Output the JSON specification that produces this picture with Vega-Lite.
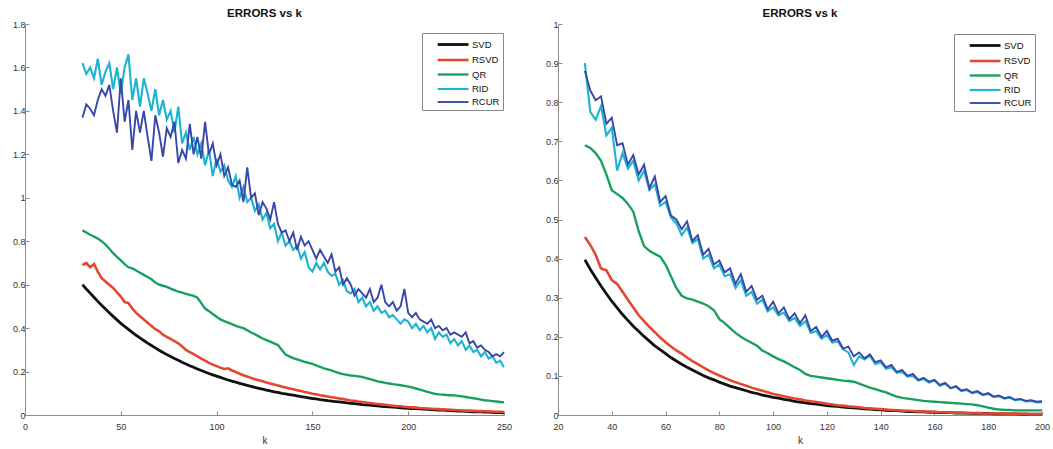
{
"$schema": "https://vega.github.io/schema/vega-lite/v6.json",
"padding": {"left": 12, "top": 7, "right": 4, "bottom": 2},
"background": "white",
"config": {
  "font": "Liberation Sans",
  "view": {"stroke": null},
  "axis": {"grid": false, "domainColor": "#8c8c8c", "tickColor": "#8c8c8c", "tickSize": -4, "labelColor": "#333333", "labelFontSize": 9, "titleFontSize": 10, "titleFontWeight": "normal", "titleColor": "#333333", "labelFlush": false, "labelOverlap": false},
  "axisX": {"labelPadding": 11, "titlePadding": 4},
  "axisY": {"labelPadding": 4},
  "title": {"fontSize": 11.5, "fontWeight": "bold", "color": "#111111", "offset": 1},
  "legend": {"symbolType": "M0.6,0L5,0", "symbolSize": 196, "symbolStrokeWidth": 2, "labelFontSize": 9.5, "labelColor": "#111111", "labelOffset": 30, "rowPadding": 0.5, "padding": 3, "strokeColor": "#888888", "fillColor": "white"},
  "concat": {"spacing": 33}
},
"datasets": {
"L": [
{"k":30,"SVD":0.600,"RSVD":0.690,"QR":0.850,"RID":1.62,"RCUR":1.37},
{"k":32,"SVD":0.580,"RSVD":0.700,"QR":0.840,"RID":1.57,"RCUR":1.43},
{"k":34,"SVD":0.561,"RSVD":0.680,"QR":0.830,"RID":1.60,"RCUR":1.41},
{"k":36,"SVD":0.542,"RSVD":0.695,"QR":0.822,"RID":1.55,"RCUR":1.38},
{"k":38,"SVD":0.523,"RSVD":0.660,"QR":0.812,"RID":1.64,"RCUR":1.45},
{"k":40,"SVD":0.505,"RSVD":0.630,"QR":0.800,"RID":1.52,"RCUR":1.50},
{"k":42,"SVD":0.488,"RSVD":0.615,"QR":0.785,"RID":1.58,"RCUR":1.47},
{"k":44,"SVD":0.471,"RSVD":0.600,"QR":0.765,"RID":1.62,"RCUR":1.52},
{"k":46,"SVD":0.454,"RSVD":0.585,"QR":0.745,"RID":1.50,"RCUR":1.40},
{"k":48,"SVD":0.438,"RSVD":0.565,"QR":0.728,"RID":1.60,"RCUR":1.30},
{"k":50,"SVD":0.422,"RSVD":0.545,"QR":0.712,"RID":1.48,"RCUR":1.55},
{"k":52,"SVD":0.408,"RSVD":0.520,"QR":0.695,"RID":1.60,"RCUR":1.35},
{"k":54,"SVD":0.394,"RSVD":0.515,"QR":0.680,"RID":1.66,"RCUR":1.45},
{"k":56,"SVD":0.380,"RSVD":0.490,"QR":0.675,"RID":1.45,"RCUR":1.22},
{"k":58,"SVD":0.367,"RSVD":0.470,"QR":0.665,"RID":1.55,"RCUR":1.40},
{"k":60,"SVD":0.355,"RSVD":0.455,"QR":0.655,"RID":1.42,"RCUR":1.30},
{"k":62,"SVD":0.343,"RSVD":0.440,"QR":0.645,"RID":1.55,"RCUR":1.40},
{"k":64,"SVD":0.331,"RSVD":0.425,"QR":0.635,"RID":1.48,"RCUR":1.28},
{"k":66,"SVD":0.320,"RSVD":0.410,"QR":0.625,"RID":1.40,"RCUR":1.17},
{"k":68,"SVD":0.309,"RSVD":0.395,"QR":0.610,"RID":1.50,"RCUR":1.38},
{"k":70,"SVD":0.298,"RSVD":0.385,"QR":0.600,"RID":1.38,"RCUR":1.30},
{"k":72,"SVD":0.288,"RSVD":0.370,"QR":0.595,"RID":1.45,"RCUR":1.19},
{"k":74,"SVD":0.278,"RSVD":0.360,"QR":0.590,"RID":1.36,"RCUR":1.32},
{"k":76,"SVD":0.269,"RSVD":0.350,"QR":0.582,"RID":1.40,"RCUR":1.28},
{"k":78,"SVD":0.260,"RSVD":0.340,"QR":0.575,"RID":1.30,"RCUR":1.35},
{"k":80,"SVD":0.252,"RSVD":0.330,"QR":0.568,"RID":1.42,"RCUR":1.16},
{"k":82,"SVD":0.243,"RSVD":0.315,"QR":0.563,"RID":1.25,"RCUR":1.22},
{"k":84,"SVD":0.235,"RSVD":0.300,"QR":0.558,"RID":1.30,"RCUR":1.18},
{"k":86,"SVD":0.227,"RSVD":0.290,"QR":0.553,"RID":1.22,"RCUR":1.34},
{"k":88,"SVD":0.220,"RSVD":0.280,"QR":0.548,"RID":1.28,"RCUR":1.20},
{"k":90,"SVD":0.212,"RSVD":0.270,"QR":0.540,"RID":1.20,"RCUR":1.28},
{"k":92,"SVD":0.205,"RSVD":0.260,"QR":0.515,"RID":1.25,"RCUR":1.18},
{"k":94,"SVD":0.198,"RSVD":0.250,"QR":0.490,"RID":1.15,"RCUR":1.35},
{"k":96,"SVD":0.191,"RSVD":0.240,"QR":0.478,"RID":1.22,"RCUR":1.20},
{"k":98,"SVD":0.185,"RSVD":0.232,"QR":0.465,"RID":1.10,"RCUR":1.25},
{"k":100,"SVD":0.179,"RSVD":0.225,"QR":0.452,"RID":1.18,"RCUR":1.15},
{"k":102,"SVD":0.173,"RSVD":0.218,"QR":0.440,"RID":1.12,"RCUR":1.20},
{"k":104,"SVD":0.167,"RSVD":0.212,"QR":0.432,"RID":1.15,"RCUR":1.10},
{"k":106,"SVD":0.161,"RSVD":0.215,"QR":0.425,"RID":1.08,"RCUR":1.14},
{"k":108,"SVD":0.156,"RSVD":0.205,"QR":0.418,"RID":1.05,"RCUR":1.06},
{"k":110,"SVD":0.151,"RSVD":0.198,"QR":0.410,"RID":1.10,"RCUR":1.05},
{"k":112,"SVD":0.146,"RSVD":0.190,"QR":0.405,"RID":1.00,"RCUR":1.08},
{"k":114,"SVD":0.141,"RSVD":0.183,"QR":0.400,"RID":1.05,"RCUR":0.98},
{"k":116,"SVD":0.136,"RSVD":0.177,"QR":0.390,"RID":0.98,"RCUR":1.14},
{"k":118,"SVD":0.132,"RSVD":0.171,"QR":0.380,"RID":1.00,"RCUR":1.00},
{"k":120,"SVD":0.127,"RSVD":0.165,"QR":0.372,"RID":0.94,"RCUR":1.02},
{"k":122,"SVD":0.123,"RSVD":0.160,"QR":0.362,"RID":0.97,"RCUR":0.92},
{"k":124,"SVD":0.119,"RSVD":0.155,"QR":0.352,"RID":0.90,"RCUR":0.98},
{"k":126,"SVD":0.115,"RSVD":0.150,"QR":0.345,"RID":0.93,"RCUR":0.95},
{"k":128,"SVD":0.111,"RSVD":0.145,"QR":0.338,"RID":0.86,"RCUR":0.90},
{"k":130,"SVD":0.107,"RSVD":0.140,"QR":0.330,"RID":0.88,"RCUR":0.98},
{"k":132,"SVD":0.104,"RSVD":0.136,"QR":0.322,"RID":0.80,"RCUR":0.88},
{"k":134,"SVD":0.100,"RSVD":0.131,"QR":0.300,"RID":0.84,"RCUR":0.84},
{"k":136,"SVD":0.097,"RSVD":0.127,"QR":0.278,"RID":0.78,"RCUR":0.85},
{"k":138,"SVD":0.094,"RSVD":0.122,"QR":0.270,"RID":0.80,"RCUR":0.80},
{"k":140,"SVD":0.091,"RSVD":0.118,"QR":0.262,"RID":0.76,"RCUR":0.84},
{"k":142,"SVD":0.088,"RSVD":0.114,"QR":0.256,"RID":0.78,"RCUR":0.76},
{"k":144,"SVD":0.085,"RSVD":0.110,"QR":0.250,"RID":0.72,"RCUR":0.82},
{"k":146,"SVD":0.082,"RSVD":0.106,"QR":0.245,"RID":0.75,"RCUR":0.78},
{"k":148,"SVD":0.079,"RSVD":0.102,"QR":0.240,"RID":0.68,"RCUR":0.80},
{"k":150,"SVD":0.076,"RSVD":0.098,"QR":0.235,"RID":0.66,"RCUR":0.76},
{"k":152,"SVD":0.074,"RSVD":0.095,"QR":0.228,"RID":0.70,"RCUR":0.72},
{"k":154,"SVD":0.071,"RSVD":0.091,"QR":0.222,"RID":0.67,"RCUR":0.76},
{"k":156,"SVD":0.069,"RSVD":0.088,"QR":0.215,"RID":0.70,"RCUR":0.73},
{"k":158,"SVD":0.066,"RSVD":0.085,"QR":0.210,"RID":0.66,"RCUR":0.70},
{"k":160,"SVD":0.064,"RSVD":0.082,"QR":0.205,"RID":0.64,"RCUR":0.74},
{"k":162,"SVD":0.062,"RSVD":0.079,"QR":0.198,"RID":0.65,"RCUR":0.66},
{"k":164,"SVD":0.060,"RSVD":0.076,"QR":0.193,"RID":0.60,"RCUR":0.68},
{"k":166,"SVD":0.058,"RSVD":0.073,"QR":0.188,"RID":0.62,"RCUR":0.60},
{"k":168,"SVD":0.056,"RSVD":0.070,"QR":0.185,"RID":0.57,"RCUR":0.63},
{"k":170,"SVD":0.054,"RSVD":0.067,"QR":0.182,"RID":0.56,"RCUR":0.60},
{"k":172,"SVD":0.052,"RSVD":0.065,"QR":0.180,"RID":0.58,"RCUR":0.55},
{"k":174,"SVD":0.050,"RSVD":0.062,"QR":0.178,"RID":0.52,"RCUR":0.58},
{"k":176,"SVD":0.048,"RSVD":0.060,"QR":0.175,"RID":0.54,"RCUR":0.56},
{"k":178,"SVD":0.047,"RSVD":0.057,"QR":0.170,"RID":0.50,"RCUR":0.54},
{"k":180,"SVD":0.045,"RSVD":0.055,"QR":0.165,"RID":0.52,"RCUR":0.58},
{"k":182,"SVD":0.043,"RSVD":0.053,"QR":0.160,"RID":0.48,"RCUR":0.52},
{"k":184,"SVD":0.042,"RSVD":0.051,"QR":0.155,"RID":0.50,"RCUR":0.54},
{"k":186,"SVD":0.040,"RSVD":0.049,"QR":0.152,"RID":0.47,"RCUR":0.60},
{"k":188,"SVD":0.039,"RSVD":0.047,"QR":0.148,"RID":0.48,"RCUR":0.52},
{"k":190,"SVD":0.037,"RSVD":0.045,"QR":0.145,"RID":0.45,"RCUR":0.50},
{"k":192,"SVD":0.036,"RSVD":0.043,"QR":0.142,"RID":0.46,"RCUR":0.52},
{"k":194,"SVD":0.035,"RSVD":0.041,"QR":0.140,"RID":0.44,"RCUR":0.48},
{"k":196,"SVD":0.033,"RSVD":0.040,"QR":0.137,"RID":0.42,"RCUR":0.50},
{"k":198,"SVD":0.032,"RSVD":0.038,"QR":0.134,"RID":0.44,"RCUR":0.58},
{"k":200,"SVD":0.031,"RSVD":0.036,"QR":0.131,"RID":0.43,"RCUR":0.47},
{"k":202,"SVD":0.030,"RSVD":0.035,"QR":0.127,"RID":0.40,"RCUR":0.45},
{"k":204,"SVD":0.029,"RSVD":0.034,"QR":0.122,"RID":0.42,"RCUR":0.47},
{"k":206,"SVD":0.028,"RSVD":0.032,"QR":0.117,"RID":0.39,"RCUR":0.44},
{"k":208,"SVD":0.027,"RSVD":0.031,"QR":0.112,"RID":0.41,"RCUR":0.43},
{"k":210,"SVD":0.026,"RSVD":0.030,"QR":0.107,"RID":0.38,"RCUR":0.42},
{"k":212,"SVD":0.025,"RSVD":0.029,"QR":0.102,"RID":0.40,"RCUR":0.44},
{"k":214,"SVD":0.024,"RSVD":0.028,"QR":0.097,"RID":0.35,"RCUR":0.40},
{"k":216,"SVD":0.023,"RSVD":0.027,"QR":0.095,"RID":0.38,"RCUR":0.41},
{"k":218,"SVD":0.022,"RSVD":0.026,"QR":0.094,"RID":0.36,"RCUR":0.39},
{"k":220,"SVD":0.021,"RSVD":0.025,"QR":0.092,"RID":0.37,"RCUR":0.40},
{"k":222,"SVD":0.020,"RSVD":0.024,"QR":0.091,"RID":0.33,"RCUR":0.37},
{"k":224,"SVD":0.019,"RSVD":0.023,"QR":0.090,"RID":0.35,"RCUR":0.38},
{"k":226,"SVD":0.018,"RSVD":0.022,"QR":0.088,"RID":0.32,"RCUR":0.37},
{"k":228,"SVD":0.018,"RSVD":0.021,"QR":0.086,"RID":0.34,"RCUR":0.36},
{"k":230,"SVD":0.017,"RSVD":0.020,"QR":0.083,"RID":0.30,"RCUR":0.38},
{"k":232,"SVD":0.016,"RSVD":0.020,"QR":0.080,"RID":0.32,"RCUR":0.33},
{"k":234,"SVD":0.015,"RSVD":0.019,"QR":0.077,"RID":0.29,"RCUR":0.34},
{"k":236,"SVD":0.015,"RSVD":0.018,"QR":0.074,"RID":0.30,"RCUR":0.31},
{"k":238,"SVD":0.014,"RSVD":0.018,"QR":0.071,"RID":0.27,"RCUR":0.32},
{"k":240,"SVD":0.013,"RSVD":0.017,"QR":0.068,"RID":0.29,"RCUR":0.30},
{"k":242,"SVD":0.013,"RSVD":0.016,"QR":0.066,"RID":0.26,"RCUR":0.29},
{"k":244,"SVD":0.012,"RSVD":0.016,"QR":0.064,"RID":0.27,"RCUR":0.27},
{"k":246,"SVD":0.011,"RSVD":0.015,"QR":0.062,"RID":0.24,"RCUR":0.28},
{"k":248,"SVD":0.011,"RSVD":0.015,"QR":0.060,"RID":0.25,"RCUR":0.27},
{"k":250,"SVD":0.010,"RSVD":0.014,"QR":0.058,"RID":0.22,"RCUR":0.29}
],
"R": [
{"k":30,"SVD":0.397,"RSVD":0.455,"QR":0.690,"RID":0.900,"RCUR":0.880},
{"k":32,"SVD":0.373,"RSVD":0.435,"QR":0.683,"RID":0.775,"RCUR":0.830},
{"k":34,"SVD":0.351,"RSVD":0.410,"QR":0.670,"RID":0.755,"RCUR":0.805},
{"k":36,"SVD":0.330,"RSVD":0.375,"QR":0.650,"RID":0.790,"RCUR":0.815},
{"k":38,"SVD":0.310,"RSVD":0.370,"QR":0.615,"RID":0.715,"RCUR":0.745},
{"k":40,"SVD":0.291,"RSVD":0.345,"QR":0.575,"RID":0.735,"RCUR":0.760},
{"k":42,"SVD":0.274,"RSVD":0.335,"QR":0.565,"RID":0.625,"RCUR":0.690},
{"k":44,"SVD":0.257,"RSVD":0.315,"QR":0.555,"RID":0.670,"RCUR":0.695},
{"k":46,"SVD":0.242,"RSVD":0.295,"QR":0.540,"RID":0.630,"RCUR":0.640},
{"k":48,"SVD":0.227,"RSVD":0.275,"QR":0.520,"RID":0.650,"RCUR":0.665},
{"k":50,"SVD":0.214,"RSVD":0.255,"QR":0.470,"RID":0.600,"RCUR":0.615},
{"k":52,"SVD":0.201,"RSVD":0.240,"QR":0.432,"RID":0.625,"RCUR":0.640},
{"k":54,"SVD":0.189,"RSVD":0.225,"QR":0.420,"RID":0.575,"RCUR":0.580},
{"k":56,"SVD":0.177,"RSVD":0.212,"QR":0.412,"RID":0.590,"RCUR":0.610},
{"k":58,"SVD":0.167,"RSVD":0.198,"QR":0.405,"RID":0.535,"RCUR":0.545},
{"k":60,"SVD":0.157,"RSVD":0.186,"QR":0.385,"RID":0.545,"RCUR":0.560},
{"k":62,"SVD":0.147,"RSVD":0.175,"QR":0.355,"RID":0.505,"RCUR":0.510},
{"k":64,"SVD":0.138,"RSVD":0.165,"QR":0.325,"RID":0.490,"RCUR":0.500},
{"k":66,"SVD":0.130,"RSVD":0.157,"QR":0.305,"RID":0.460,"RCUR":0.475},
{"k":68,"SVD":0.122,"RSVD":0.147,"QR":0.298,"RID":0.480,"RCUR":0.495},
{"k":70,"SVD":0.115,"RSVD":0.138,"QR":0.295,"RID":0.440,"RCUR":0.445},
{"k":72,"SVD":0.108,"RSVD":0.130,"QR":0.290,"RID":0.450,"RCUR":0.460},
{"k":74,"SVD":0.101,"RSVD":0.122,"QR":0.285,"RID":0.400,"RCUR":0.410},
{"k":76,"SVD":0.095,"RSVD":0.114,"QR":0.278,"RID":0.410,"RCUR":0.425},
{"k":78,"SVD":0.090,"RSVD":0.107,"QR":0.268,"RID":0.375,"RCUR":0.385},
{"k":80,"SVD":0.084,"RSVD":0.101,"QR":0.245,"RID":0.385,"RCUR":0.395},
{"k":82,"SVD":0.079,"RSVD":0.095,"QR":0.235,"RID":0.355,"RCUR":0.365},
{"k":84,"SVD":0.074,"RSVD":0.089,"QR":0.222,"RID":0.360,"RCUR":0.375},
{"k":86,"SVD":0.070,"RSVD":0.084,"QR":0.210,"RID":0.325,"RCUR":0.335},
{"k":88,"SVD":0.066,"RSVD":0.079,"QR":0.200,"RID":0.345,"RCUR":0.360},
{"k":90,"SVD":0.062,"RSVD":0.075,"QR":0.192,"RID":0.305,"RCUR":0.315},
{"k":92,"SVD":0.058,"RSVD":0.070,"QR":0.185,"RID":0.315,"RCUR":0.330},
{"k":94,"SVD":0.055,"RSVD":0.066,"QR":0.177,"RID":0.285,"RCUR":0.295},
{"k":96,"SVD":0.051,"RSVD":0.062,"QR":0.165,"RID":0.295,"RCUR":0.305},
{"k":98,"SVD":0.048,"RSVD":0.058,"QR":0.158,"RID":0.265,"RCUR":0.270},
{"k":100,"SVD":0.045,"RSVD":0.054,"QR":0.150,"RID":0.275,"RCUR":0.290},
{"k":102,"SVD":0.043,"RSVD":0.051,"QR":0.143,"RID":0.255,"RCUR":0.260},
{"k":104,"SVD":0.040,"RSVD":0.048,"QR":0.137,"RID":0.262,"RCUR":0.275},
{"k":106,"SVD":0.038,"RSVD":0.045,"QR":0.130,"RID":0.240,"RCUR":0.245},
{"k":108,"SVD":0.035,"RSVD":0.042,"QR":0.122,"RID":0.248,"RCUR":0.260},
{"k":110,"SVD":0.033,"RSVD":0.040,"QR":0.115,"RID":0.228,"RCUR":0.235},
{"k":112,"SVD":0.031,"RSVD":0.037,"QR":0.105,"RID":0.240,"RCUR":0.255},
{"k":114,"SVD":0.029,"RSVD":0.035,"QR":0.100,"RID":0.210,"RCUR":0.215},
{"k":116,"SVD":0.028,"RSVD":0.033,"QR":0.098,"RID":0.215,"RCUR":0.225},
{"k":118,"SVD":0.026,"RSVD":0.031,"QR":0.096,"RID":0.195,"RCUR":0.200},
{"k":120,"SVD":0.024,"RSVD":0.029,"QR":0.094,"RID":0.205,"RCUR":0.215},
{"k":122,"SVD":0.023,"RSVD":0.027,"QR":0.092,"RID":0.185,"RCUR":0.190},
{"k":124,"SVD":0.022,"RSVD":0.025,"QR":0.090,"RID":0.188,"RCUR":0.195},
{"k":126,"SVD":0.020,"RSVD":0.024,"QR":0.088,"RID":0.168,"RCUR":0.170},
{"k":128,"SVD":0.019,"RSVD":0.022,"QR":0.087,"RID":0.160,"RCUR":0.175},
{"k":130,"SVD":0.018,"RSVD":0.021,"QR":0.085,"RID":0.128,"RCUR":0.150},
{"k":132,"SVD":0.017,"RSVD":0.020,"QR":0.080,"RID":0.150,"RCUR":0.160},
{"k":134,"SVD":0.016,"RSVD":0.018,"QR":0.075,"RID":0.142,"RCUR":0.145},
{"k":136,"SVD":0.015,"RSVD":0.017,"QR":0.070,"RID":0.152,"RCUR":0.155},
{"k":138,"SVD":0.014,"RSVD":0.016,"QR":0.066,"RID":0.130,"RCUR":0.135},
{"k":140,"SVD":0.013,"RSVD":0.015,"QR":0.062,"RID":0.135,"RCUR":0.140},
{"k":142,"SVD":0.012,"RSVD":0.014,"QR":0.058,"RID":0.118,"RCUR":0.122},
{"k":144,"SVD":0.011,"RSVD":0.013,"QR":0.052,"RID":0.122,"RCUR":0.128},
{"k":146,"SVD":0.011,"RSVD":0.012,"QR":0.047,"RID":0.108,"RCUR":0.110},
{"k":148,"SVD":0.010,"RSVD":0.011,"QR":0.044,"RID":0.110,"RCUR":0.115},
{"k":150,"SVD":0.009,"RSVD":0.011,"QR":0.042,"RID":0.098,"RCUR":0.100},
{"k":152,"SVD":0.009,"RSVD":0.010,"QR":0.040,"RID":0.100,"RCUR":0.105},
{"k":154,"SVD":0.008,"RSVD":0.009,"QR":0.038,"RID":0.088,"RCUR":0.090},
{"k":156,"SVD":0.008,"RSVD":0.009,"QR":0.036,"RID":0.092,"RCUR":0.095},
{"k":158,"SVD":0.007,"RSVD":0.008,"QR":0.035,"RID":0.083,"RCUR":0.085},
{"k":160,"SVD":0.007,"RSVD":0.008,"QR":0.034,"RID":0.088,"RCUR":0.090},
{"k":162,"SVD":0.006,"RSVD":0.007,"QR":0.033,"RID":0.075,"RCUR":0.077},
{"k":164,"SVD":0.006,"RSVD":0.007,"QR":0.032,"RID":0.080,"RCUR":0.082},
{"k":166,"SVD":0.006,"RSVD":0.006,"QR":0.031,"RID":0.068,"RCUR":0.069},
{"k":168,"SVD":0.005,"RSVD":0.006,"QR":0.030,"RID":0.072,"RCUR":0.074},
{"k":170,"SVD":0.005,"RSVD":0.006,"QR":0.029,"RID":0.061,"RCUR":0.063},
{"k":172,"SVD":0.005,"RSVD":0.005,"QR":0.028,"RID":0.064,"RCUR":0.066},
{"k":174,"SVD":0.004,"RSVD":0.005,"QR":0.027,"RID":0.056,"RCUR":0.057},
{"k":176,"SVD":0.004,"RSVD":0.005,"QR":0.025,"RID":0.059,"RCUR":0.061},
{"k":178,"SVD":0.004,"RSVD":0.004,"QR":0.022,"RID":0.051,"RCUR":0.052},
{"k":180,"SVD":0.004,"RSVD":0.004,"QR":0.019,"RID":0.054,"RCUR":0.056},
{"k":182,"SVD":0.003,"RSVD":0.004,"QR":0.016,"RID":0.046,"RCUR":0.047},
{"k":184,"SVD":0.003,"RSVD":0.004,"QR":0.014,"RID":0.048,"RCUR":0.050},
{"k":186,"SVD":0.003,"RSVD":0.003,"QR":0.013,"RID":0.042,"RCUR":0.043},
{"k":188,"SVD":0.003,"RSVD":0.003,"QR":0.013,"RID":0.044,"RCUR":0.046},
{"k":190,"SVD":0.003,"RSVD":0.003,"QR":0.012,"RID":0.038,"RCUR":0.039},
{"k":192,"SVD":0.002,"RSVD":0.003,"QR":0.012,"RID":0.040,"RCUR":0.041},
{"k":194,"SVD":0.002,"RSVD":0.003,"QR":0.012,"RID":0.035,"RCUR":0.036},
{"k":196,"SVD":0.002,"RSVD":0.002,"QR":0.012,"RID":0.036,"RCUR":0.038},
{"k":198,"SVD":0.002,"RSVD":0.002,"QR":0.012,"RID":0.032,"RCUR":0.034},
{"k":200,"SVD":0.002,"RSVD":0.002,"QR":0.012,"RID":0.033,"RCUR":0.035}
]
},
"resolve": {"legend": {"color": "independent", "strokeWidth": "independent"}, "scale": {"x": "independent", "y": "independent"}},
"hconcat": [
{
  "width": 479, "height": 391,
  "title": "ERRORS vs k",
  "data": {"name": "L"},
  "transform": [{"fold": ["SVD", "RSVD", "QR", "RID", "RCUR"], "as": ["m", "e"]}],
  "mark": {"type": "line"},
  "encoding": {
    "x": {"field": "k", "type": "quantitative", "scale": {"domain": [0, 250], "nice": false}, "axis": {"title": "k", "values": [0, 50, 100, 150, 200, 250]}},
    "y": {"field": "e", "type": "quantitative", "scale": {"domain": [0, 1.8], "nice": false}, "axis": {"title": null, "values": [0, 0.2, 0.4, 0.6, 0.8, 1, 1.2, 1.4, 1.6, 1.8], "format": "~g"}},
    "color": {"field": "m", "type": "nominal", "scale": {"domain": ["SVD", "RSVD", "QR", "RID", "RCUR"], "range": ["#111111", "#e4472f", "#17a05d", "#1fb3d1", "#3748a8"]}, "legend": {"title": null, "orient": "none", "legendX": 397, "legendY": 9}},
    "strokeWidth": {"field": "m", "type": "ordinal", "scale": {"domain": ["SVD", "RSVD", "QR", "RID", "RCUR"], "range": [2.8, 1.9, 1.9, 1.9, 1.9]}, "legend": null}
  }
},
{
  "width": 484, "height": 391,
  "title": "ERRORS vs k",
  "data": {"name": "R"},
  "transform": [{"fold": ["SVD", "RSVD", "QR", "RID", "RCUR"], "as": ["m", "e"]}],
  "mark": {"type": "line"},
  "encoding": {
    "x": {"field": "k", "type": "quantitative", "scale": {"domain": [20, 200], "nice": false}, "axis": {"title": "k", "values": [20, 40, 60, 80, 100, 120, 140, 160, 180, 200]}},
    "y": {"field": "e", "type": "quantitative", "scale": {"domain": [0, 1], "nice": false}, "axis": {"title": null, "values": [0, 0.1, 0.2, 0.3, 0.4, 0.5, 0.6, 0.7, 0.8, 0.9, 1], "format": "~g"}},
    "color": {"field": "m", "type": "nominal", "scale": {"domain": ["SVD", "RSVD", "QR", "RID", "RCUR"], "range": ["#111111", "#e4472f", "#17a05d", "#1fb3d1", "#3748a8"]}, "legend": {"title": null, "orient": "none", "legendX": 396, "legendY": 10}},
    "strokeWidth": {"field": "m", "type": "ordinal", "scale": {"domain": ["SVD", "RSVD", "QR", "RID", "RCUR"], "range": [2.8, 1.9, 1.9, 1.9, 1.9]}, "legend": null}
  }
}
]
}
